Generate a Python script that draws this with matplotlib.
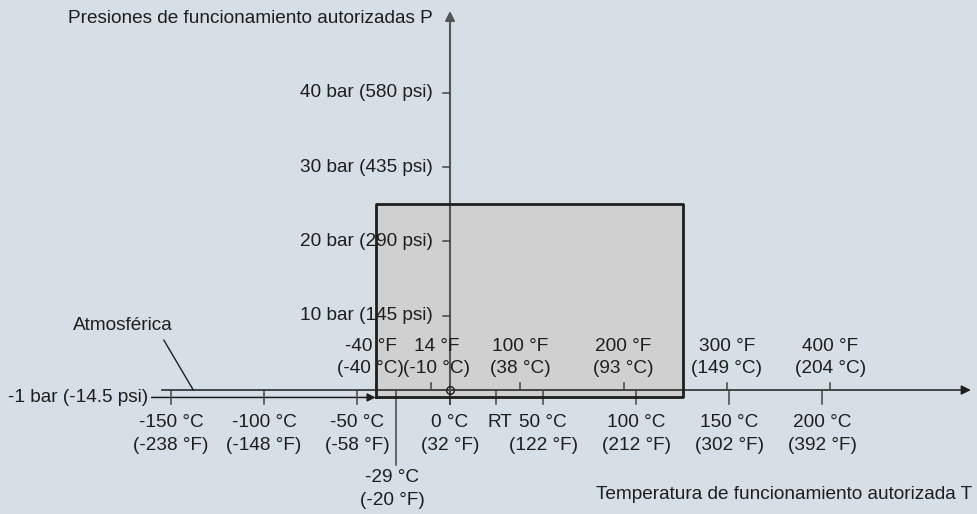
import matplotlib.pyplot as plt

plt.rcParams['font.family'] = ['Liberation Sans', 'DejaVu Sans']

# data
box_temp = [-40, 125]          # permitted temperature range, degC
box_pres = [-1, 25]            # permitted pressure range, bar

c_ticks = [-150, -100, -50, 0, 50, 100, 150, 200]
c_labels = ['-150 °C', '-100 °C', '-50 °C', '0 °C', '50 °C', '100 °C', '150 °C', '200 °C']
c_sub = ['(-238 °F)', '(-148 °F)', '(-58 °F)', '(32 °F)', '(122 °F)', '(212 °F)', '(302 °F)', '(392 °F)']

f_ticks = [-40, 14, 100, 200, 300, 400]
f_labels = ['-40 °F', '14 °F', '100 °F', '200 °F', '300 °F', '400 °F']
f_sub = ['(-40 °C)', '(-10 °C)', '(38 °C)', '(93 °C)', '(149 °C)', '(204 °C)']
f_nudge = [-5, 5, 0, 0, 0, 0]   # px shift of the labels to avoid overlap

rt_temp = 25
min_temp = -29
min_labels = ['-29 °C', '(-20 °F)']

p_ticks = [10, 20, 30, 40]
p_psi = [145, 290, 435, 580]
atm_pres = -1

BG = '#d5dfe5'
INK = '#1e1e1e'
FS = 13.7

fig = plt.figure(figsize=(9.77, 5.14), dpi=100, facecolor=BG)
ax = fig.add_axes([0, 0, 1, 1])
ax.set_facecolor(BG)
ax.set_xlim(-241.9, 283.3)
ax.set_ylim(-16.68, 52.47)
ax.axis('off')

# permitted range box
ax.fill_between(box_temp, box_pres[0], box_pres[1], facecolor='#d0d0d0',
                edgecolor='none', zorder=1)
ax.plot([box_temp[0], box_temp[0], box_temp[1], box_temp[1], box_temp[0]],
        [box_pres[0], box_pres[1], box_pres[1], box_pres[0], box_pres[0]],
        color=INK, lw=2, zorder=4)

# axes with arrows
ax.annotate('', xy=(280, 0), xytext=(-155, 0),
            arrowprops=dict(arrowstyle='-|>', color=INK, lw=1.1, mutation_scale=14,
                            shrinkA=0, shrinkB=0), zorder=3)
ax.annotate('', xy=(0, 51), xytext=(0, -1.9),
            arrowprops=dict(arrowstyle='-|>', color='#555555', lw=1.5, mutation_scale=14,
                            shrinkA=0, shrinkB=0), zorder=3)

# atmospheric (-1 bar) line
ax.annotate('', xy=(box_temp[0], atm_pres), xytext=(-160.4, atm_pres),
            arrowprops=dict(arrowstyle='-|>', color=INK, lw=1.1, mutation_scale=12,
                            shrinkA=0, shrinkB=0), zorder=3)
ax.text(-162.4, atm_pres, '-1 bar (-14.5 psi)', ha='right', va='center', fontsize=FS, color=INK)
ax.text(-175.8, 8.7, 'Atmosférica', ha='center', va='center', fontsize=FS, color=INK)
ax.plot([-153.8, -138], [6.7, 0], color=INK, lw=1)

# origin marker
ax.plot([0], [0], marker='o', ms=5.5, mfc='none', mec=INK, mew=1, zorder=5)

# celsius ticks below the axis
for t, lab, sub in zip(c_ticks, c_labels, c_sub):
    ax.plot([t, t], [0, -1.9], color='#444444', lw=1.1, zorder=3)
    ax.text(t, -4.4, lab, ha='center', va='center', fontsize=FS, color=INK)
    ax.text(t, -7.5, sub, ha='center', va='center', fontsize=FS, color=INK)

ax.plot([rt_temp, rt_temp], [0, -1.9], color='#444444', lw=1.1, zorder=3)
ax.text(rt_temp + 2, -4.4, 'RT', ha='center', va='center', fontsize=FS, color=INK)

ax.plot([min_temp, min_temp], [0, -10.1], color='#444444', lw=1.1, zorder=3)
ax.text(min_temp - 2, -11.8, min_labels[0], ha='center', va='center', fontsize=FS, color=INK)
ax.text(min_temp - 2, -14.8, min_labels[1], ha='center', va='center', fontsize=FS, color=INK)

# fahrenheit ticks above the axis
for f, lab, sub, dx in zip(f_ticks, f_labels, f_sub, f_nudge):
    t = (f - 32) * 5 / 9
    ax.plot([t, t], [0, 1.0], color='#444444', lw=1.1, zorder=3)
    ax.text(t + dx / 1.86, 5.9, lab, ha='center', va='center', fontsize=FS, color=INK, zorder=6)
    ax.text(t + dx / 1.86, 2.96, sub, ha='center', va='center', fontsize=FS, color=INK, zorder=6)

# pressure ticks
for p, psi in zip(p_ticks, p_psi):
    ax.plot([0, -3.9], [p, p], color='#444444', lw=1.1, zorder=3)
    ax.text(-9.1, p, f'{p} bar ({psi} psi)', ha='right', va='center', fontsize=FS,
            color=INK, zorder=2)

# axis titles
ax.text(-9.1, 50.0, 'Presiones de funcionamiento autorizadas P', ha='right', va='center',
        fontsize=FS, color=INK)
ax.text(280.6, -14.0, 'Temperatura de funcionamiento autorizada T', ha='right', va='center',
        fontsize=FS, color=INK)

fig.savefig('out.png', dpi=100, facecolor=BG)
